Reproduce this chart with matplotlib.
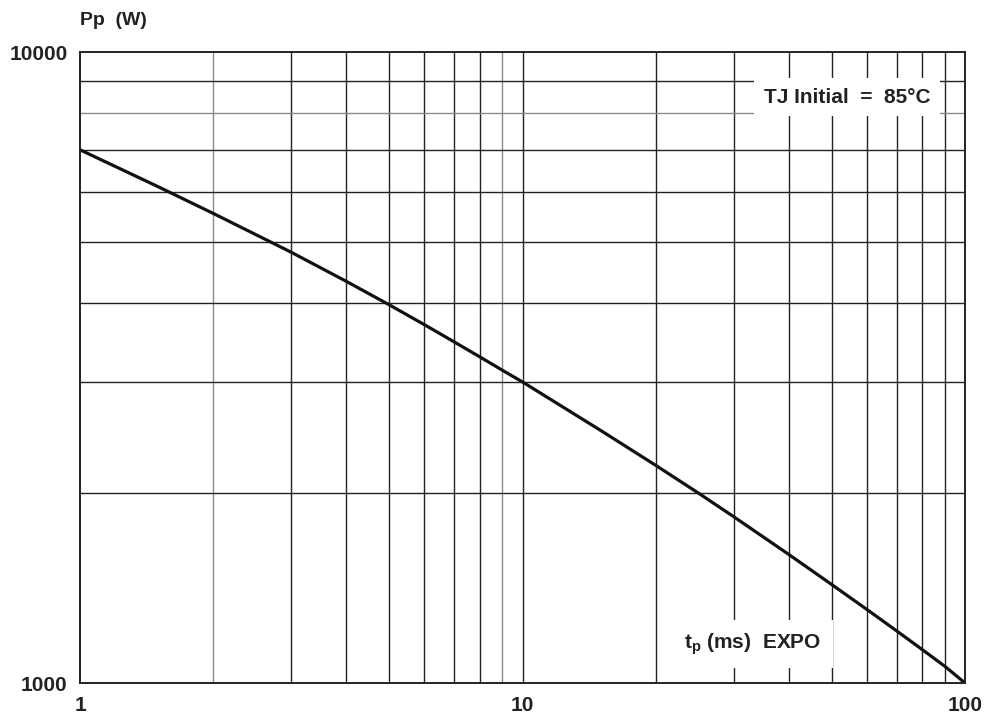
import numpy as np
import matplotlib
matplotlib.use('Agg')
import matplotlib.pyplot as plt

plt.rcParams['font.family'] = ['Liberation Sans', 'DejaVu Sans']
plt.rcParams['font.weight'] = 'bold'
plt.rcParams['mathtext.fontset'] = 'custom'
plt.rcParams['mathtext.bf'] = 'Liberation Sans:bold'
plt.rcParams['mathtext.rm'] = 'Liberation Sans:bold'
plt.rcParams['mathtext.it'] = 'Liberation Sans:bold'

# pulse duration (ms) and peak pulse power (W)
tp_ms = [1, 1.5, 2, 3, 4, 5, 6, 7, 8, 9, 10, 15, 20, 25, 30, 40, 50, 60, 70, 80, 90, 100]
pp_w = [7000, 6120, 5550, 4817, 4330, 3975, 3698, 3474, 3289, 3132, 3000, 2515,
        2213, 1999, 1835, 1598, 1432, 1308, 1210, 1130, 1063, 1000]

x_ticks = [1, 10, 100]
x_ticklabels = ['1', '10', '100']
y_ticks = [1000, 10000]
y_ticklabels = ['1000', '10000']

fig = plt.figure(figsize=(9.89, 7.18), dpi=100)
ax = fig.add_axes([0.0809, 0.0487, 0.8949, 0.8788])
ax.set_xscale('log')
ax.set_yscale('log')
ax.set_xlim(1, 100)
ax.set_ylim(1000, 10000)

# grid: every decade subdivision, a few lines printed lighter like the scan
dark = '#222222'
light = '#8a8a8a'
for dec in [1, 10]:
    for m in range(2, 10):
        c = light if m in (2, 9) and dec == 1 else dark
        ax.axvline(m * dec, color=c, lw=1.0, zorder=1)
ax.axvline(10, color=dark, lw=1.0, zorder=1)
for m in range(2, 10):
    c = light if m == 8 else dark
    ax.axhline(m * 1000, color=c, lw=1.0, zorder=1)

ax.plot(tp_ms, pp_w, color='#111111', lw=2.3, zorder=4, solid_capstyle='round',
        solid_joinstyle='round')

ax.set_xticks(x_ticks)
ax.set_xticklabels(x_ticklabels)
ax.set_yticks(y_ticks)
ax.set_yticklabels(y_ticklabels)
ax.xaxis.set_minor_locator(matplotlib.ticker.NullLocator())
ax.yaxis.set_minor_locator(matplotlib.ticker.NullLocator())
ax.tick_params(length=0, labelsize=15, colors='#222222')
ax.tick_params(axis='x', pad=9)
ax.tick_params(axis='y', pad=9)
for s in ax.spines.values():
    s.set_linewidth(1.4)
    s.set_color('#222222')
    s.set_zorder(5)

ax.text(0.8667, 0.9287, 'TJ Initial  =  85°C', transform=ax.transAxes,
        ha='center', va='center', fontsize=15, fontweight='bold', color='#222222',
        zorder=3, bbox=dict(boxstyle='square,pad=0.45', fc='white', ec='none'))
ax.text(0.760, 0.0618, r'$\mathbf{t_p}$ (ms)  EXPO', transform=ax.transAxes,
        ha='center', va='center', fontsize=15, fontweight='bold', color='#222222',
        zorder=3, bbox=dict(boxstyle='square,pad=0.55', fc='white', ec='none'))

fig.text(0.0809, 0.972, 'Pp  (W)', ha='left', va='center', fontsize=14,
         fontweight='bold', color='#222222')

fig.savefig('out.png', dpi=100)
